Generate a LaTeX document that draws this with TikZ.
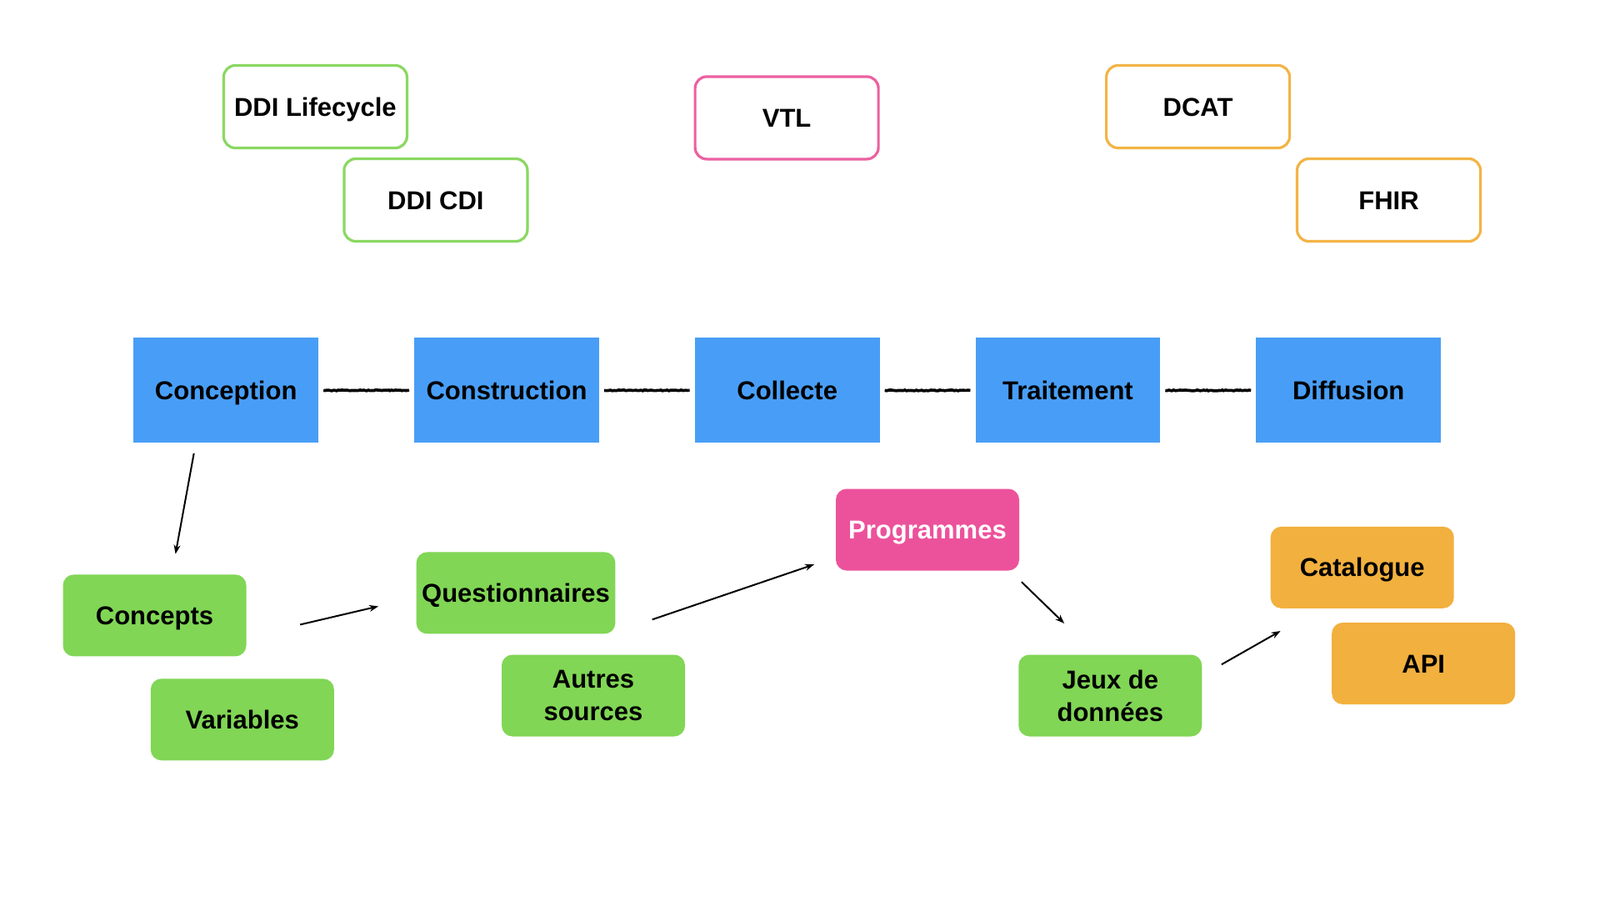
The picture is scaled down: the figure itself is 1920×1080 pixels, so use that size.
\documentclass[tikz,border=0pt]{standalone}
\usepackage{fontspec}
\setmainfont{Liberation Sans}
\usetikzlibrary{calc,arrows.meta,decorations.pathmorphing}
\definecolor{cblue}{RGB}{72,158,246}
\definecolor{cgreen}{RGB}{129,214,85}
\definecolor{cpink}{RGB}{236,82,155}
\definecolor{corange}{RGB}{242,176,62}
\definecolor{lgreen}{RGB}{138,216,98}
\definecolor{lpink}{RGB}{236,96,162}
\definecolor{lorange}{RGB}{242,180,70}
\begin{document}
\begin{tikzpicture}[x=1pt,y=-1pt,
  txt/.style={font=\fontsize{31}{39}\selectfont\bfseries, align=center, text=black, inner sep=0pt},
  oneline/.style={text height=28.2pt, text depth=6pt},
  phase/.style={txt, oneline, fill=cblue, minimum width=221.6pt, minimum height=126pt},
  stdbox/.style={txt, oneline, draw=#1, line width=3.2pt, rounded corners=14pt, fill=white, minimum width=220pt, minimum height=99pt},
  mitem/.style={txt, fill=#1, rounded corners=13pt, minimum width=220pt, minimum height=98pt},
  item/.style={mitem=#1, oneline},
  link/.style={line width=3.6pt, black, decorate, decoration={random steps, segment length=2pt, amplitude=0.5pt}},
  arr/.style={line width=2pt, -{Stealth[length=11pt,width=8pt]}}
]
\fill[white] (0,0) rectangle (1920,1080);
\useasboundingbox (0,0) rectangle (1920,1080);

% standards
\node[stdbox=lgreen] (ddil) at (378.4,128) {DDI Lifecycle};
\node[stdbox=lgreen] (ddic) at (522.9,240) {DDI CDI};
\node[stdbox=lpink] (vtl) at (944.1,141.4) {VTL};
\node[stdbox=lorange] (dcat) at (1437.6,128) {DCAT};
\node[stdbox=lorange] (fhir) at (1666.5,240) {FHIR};

% phases
\node[phase] (conception) at (271.2,468.4) {Conception};
\node[phase] (construction) at (608,468.4) {Construction};
\node[phase] (collecte) at (944.7,468.4) {Collecte};
\node[phase] (traitement) at (1281.4,468.4) {Traitement};
\node[phase] (diffusion) at (1618.2,468.4) {Diffusion};

\foreach \a/\b in {conception/construction, construction/collecte, collecte/traitement, traitement/diffusion}
  \draw[link] ($(\a.east)+(6,0)$) -- ($(\b.west)+(-6,0)$);

% items
\node[item=cgreen] (concepts) at (185.5,738.4) {Concepts};
\node[item=cgreen] (variables) at (290.8,863.3) {Variables};
\node[item=cgreen, minimum width=238.8pt] (quest) at (619,711.4) {Questionnaires};
\node[mitem=cgreen] (autres) at (712,834.5) {Autres\\sources};
\node[item=cpink, text=white] (prog) at (1113,635.5) {Programmes};
\node[mitem=cgreen] (jeux) at (1332.3,834.5) {Jeux de\\données};
\node[item=corange] (catalogue) at (1634.7,680.8) {Catalogue};
\node[item=corange] (api) at (1708.2,796) {API};

% arrows
\draw[arr] ($(conception.south)+(-38.5,12.3)$) -- ($(concepts.north)+(25.1,-24.5)$);
\draw[arr] ($(concepts.east)+(64.5,11)$) -- ($(quest.west)+(-45.3,16)$);
\draw[arr] ($(quest.east)+(44.1,31.9)$) -- ($(prog.west)+(-25.8,41.7)$);
\draw[arr] ($(prog.south east)+(2.7,13.5)$) -- ($(jeux.north)+(-55.1,-37.3)$);
\draw[arr] ($(jeux.east)+(23.4,-37.3)$) -- ($(catalogue.south west)+(12.1,27)$);
\end{tikzpicture}
\end{document}
